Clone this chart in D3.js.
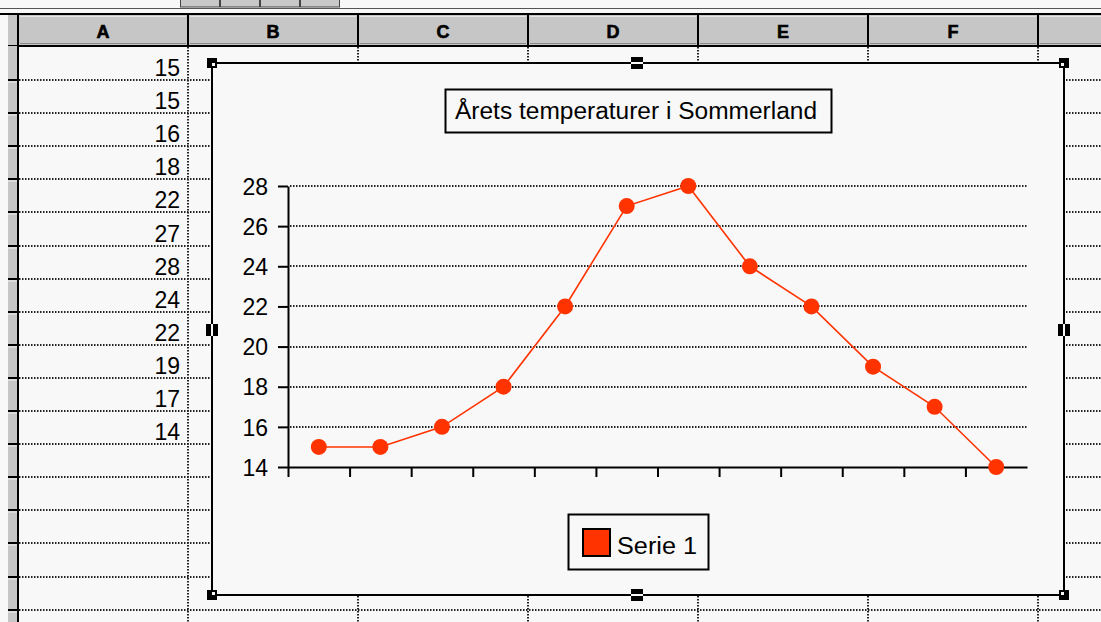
<!DOCTYPE html>
<html><head><meta charset="utf-8">
<script src="https://cdn.jsdelivr.net/npm/d3@7"></script>
<style>body{margin:0;background:#f8f8f8;}svg{display:block;}</style>
</head><body>
<svg id="c" width="1101" height="622"></svg>
<script>
// ---- data ----
const categories = ["1","2","3","4","5","6","7","8","9","10","11","12"];
const values = [15,15,16,18,22,27,28,24,22,19,17,14];
const yTicks = [14,16,18,20,22,24,26,28];
const columnLetters = ["A","B","C","D","E","F",""];
const titleText = "Årets temperaturer i Sommerland";
const seriesName = "Serie 1";

const svg = d3.select("#c");
const F = "'Liberation Sans', Arial, sans-serif";
const red = "#ff3300";

svg.append("rect").attr("width",1101).attr("height",622).attr("fill","#f8f8f8");

// top strip
const tabs = [180,220,260,300];
tabs.forEach(x=>{
  svg.append("rect").attr("x",x+0.5).attr("y",-1).attr("width",39).attr("height",8).attr("fill","#c8c8c8").attr("stroke","#444").attr("stroke-width",1);
});
svg.append("line").attr("x1",0).attr("x2",1101).attr("y1",8.5).attr("y2",8.5).attr("stroke","#555").attr("stroke-width",1);
svg.append("line").attr("x1",0).attr("x2",1101).attr("y1",14).attr("y2",14).attr("stroke","#000").attr("stroke-width",2);

// header row
const colEdges = [18,188,358,528,698,868,1038,1208];
svg.append("rect").attr("x",8).attr("y",15).attr("width",1093).attr("height",30).attr("fill","#c6c6c6");
svg.append("rect").attr("x",0).attr("y",15).attr("width",8).attr("height",607).attr("fill","#f8f8f8");
for(let i=0;i<colEdges.length-1;i++){
  const x0=colEdges[i], x1=colEdges[i+1];
  svg.append("line").attr("x1",x0+2).attr("x2",x1-2).attr("y1",16.5).attr("y2",16.5).attr("stroke","#e6e6e6").attr("stroke-width",1);
  svg.append("line").attr("x1",x0+2).attr("x2",x1-2).attr("y1",43.5).attr("y2",43.5).attr("stroke","#8a8a8a").attr("stroke-width",1);
  svg.append("text").attr("x",(x0+x1)/2).attr("y",38).attr("text-anchor","middle")
    .attr("font-family",F).attr("font-weight","900").attr("font-size",18).attr("fill","#000")
    .attr("stroke","#000").attr("stroke-width",0.6).text(columnLetters[i]);
}
colEdges.forEach(x=>{
  svg.append("line").attr("x1",x).attr("x2",x).attr("y1",15).attr("y2",46).attr("stroke","#000").attr("stroke-width",2);
});
svg.append("line").attr("x1",8).attr("x2",1101).attr("y1",46).attr("y2",46).attr("stroke","#000").attr("stroke-width",2);

// row header strip
const rowB = d3.range(0,17).map(k=>Math.round(80+33.1*k));
svg.append("rect").attr("x",8).attr("y",46).attr("width",10).attr("height",576).attr("fill","#c6c6c6");
svg.append("line").attr("x1",18).attr("x2",18).attr("y1",15).attr("y2",622).attr("stroke","#000").attr("stroke-width",2);
rowB.forEach(y=>{
  svg.append("line").attr("x1",8).attr("x2",18).attr("y1",y).attr("y2",y).attr("stroke","#000").attr("stroke-width",2);
  svg.append("line").attr("x1",8).attr("x2",17).attr("y1",y+2).attr("y2",y+2).attr("stroke","#eee").attr("stroke-width",1);
});

// cell grid
function dotted(sel){ return sel.attr("stroke","#222").attr("stroke-width",2).attr("stroke-dasharray","1.5,1.5"); }
rowB.forEach(y=>{ dotted(svg.append("line").attr("x1",19).attr("x2",1101).attr("y1",y).attr("y2",y)); });
colEdges.slice(1,7).forEach(x=>{ dotted(svg.append("line").attr("x1",x).attr("x2",x).attr("y1",47).attr("y2",622)); });

// cell values in column A
values.forEach((v,i)=>{
  svg.append("text").attr("x",180).attr("y",rowB[i]-4).attr("text-anchor","end")
    .attr("font-family",F).attr("font-size",23).attr("fill","#000").text(v);
});

// chart object
const cx0=212, cy0=63, cx1=1064, cy1=595;
svg.append("rect").attr("x",cx0).attr("y",cy0).attr("width",cx1-cx0).attr("height",cy1-cy0)
  .attr("fill","#f8f8f8").attr("stroke","#000").attr("stroke-width",2);

// handles
function cornerHandle(x,y,dx,dy){
  svg.append("rect").attr("x",x-5).attr("y",y-5).attr("width",10).attr("height",10).attr("fill","#000");
  svg.append("rect").attr("x",x+(dx>0?0:-3)).attr("y",y+(dy>0?0:-3)).attr("width",3).attr("height",3).attr("fill","#f8f8f8");
}
cornerHandle(cx0,cy0,1,1); cornerHandle(cx1,cy0,-1,1); cornerHandle(cx0,cy1,1,-1); cornerHandle(cx1,cy1,-1,-1);
function midHandle(x,y,horiz){
  svg.append("rect").attr("x",x-6).attr("y",y-6).attr("width",12).attr("height",12).attr("fill","#000");
  if(horiz) svg.append("rect").attr("x",x-6).attr("y",y-1).attr("width",12).attr("height",2).attr("fill","#f8f8f8");
  else svg.append("rect").attr("x",x-1).attr("y",y-6).attr("width",2).attr("height",12).attr("fill","#f8f8f8");
}
midHandle(637,cy0,true); midHandle(637,cy1,true); midHandle(cx0,330,false); midHandle(cx1,330,false);

// title box
svg.append("rect").attr("x",445.5).attr("y",89.5).attr("width",386).attr("height",43).attr("fill","#f8f8f8").attr("stroke","#000").attr("stroke-width",2);
svg.append("text").attr("x",455).attr("y",119).attr("font-family",F).attr("font-size",23)
  .attr("textLength",362).attr("lengthAdjust","spacingAndGlyphs").attr("fill","#000").text(titleText);

// plot
const x = d3.scaleBand().domain(categories).range([288,1027]);
const xi = d3.scaleLinear().domain([0,categories.length]).range([288,1027]);
const y = d3.scaleLinear().domain([14,28]).range([467,186]);

// gridlines
const g = svg.append("g");
yTicks.filter(t=>t>14).forEach(t=>{
  const yy = Math.round(y(t));
  dotted(g.append("line").attr("x1",290).attr("x2",1027).attr("y1",yy).attr("y2",yy));
});

// y axis
const ya = svg.append("g").attr("transform","translate(288,0)")
  .call(d3.axisLeft(y).tickValues(yTicks).tickSize(10).tickPadding(10).tickSizeOuter(0));
ya.select(".domain").attr("stroke","#000").attr("stroke-width",2);
ya.selectAll(".tick line").attr("stroke","#000").attr("stroke-width",2);
ya.selectAll(".tick text").attr("font-family",F).attr("font-size",23).attr("fill","#000").attr("dy","0.36em");

// x axis
const xa = svg.append("g").attr("transform","translate(0,467)")
  .call(d3.axisBottom(xi).tickValues(d3.range(0,categories.length)).tickSize(10).tickSizeOuter(0).tickFormat(""));
xa.select(".domain").attr("stroke","#000").attr("stroke-width",2);
xa.selectAll(".tick line").attr("stroke","#000").attr("stroke-width",2);

// line + markers
const line = d3.line().x((d,i)=>x(categories[i])+x.bandwidth()/2).y(d=>y(d));
svg.append("path").datum(values).attr("d",line).attr("fill","none").attr("stroke",red).attr("stroke-width",1.6);
svg.selectAll("circle.pt").data(values).enter().append("circle").attr("class","pt")
  .attr("cx",(d,i)=>x(categories[i])+x.bandwidth()/2).attr("cy",d=>y(d)).attr("r",8).attr("fill",red);

// legend
svg.append("rect").attr("x",568.5).attr("y",514.5).attr("width",140).attr("height",55).attr("fill","#f8f8f8").attr("stroke","#000").attr("stroke-width",2);
svg.append("rect").attr("x",583).attr("y",529).attr("width",27).attr("height",27).attr("fill",red).attr("stroke","#000").attr("stroke-width",2);
svg.append("text").attr("x",617).attr("y",554).attr("font-family",F).attr("font-size",23)
  .attr("textLength",80).attr("lengthAdjust","spacingAndGlyphs").attr("fill","#000").text(seriesName);
</script>
</body></html>
